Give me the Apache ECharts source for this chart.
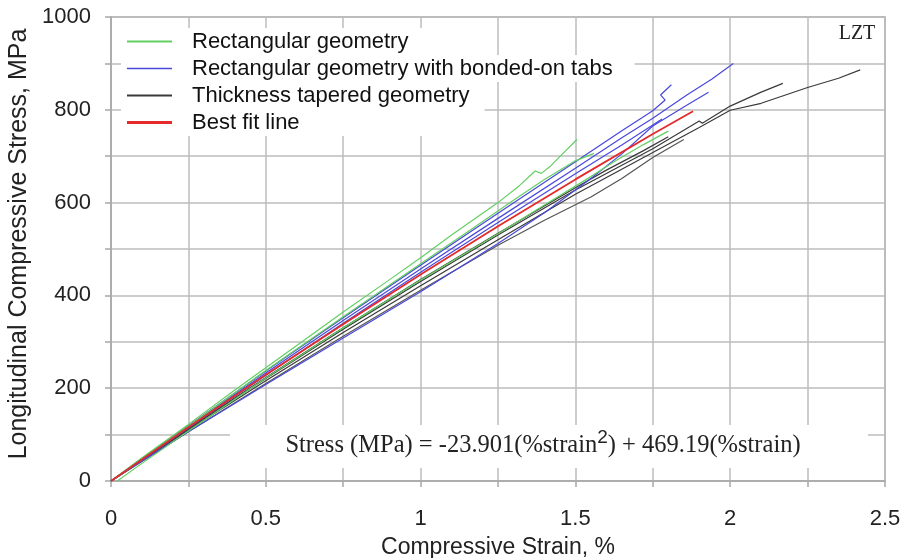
<!DOCTYPE html>
<html>
<head>
<meta charset="utf-8">
<script src="https://cdn.jsdelivr.net/npm/echarts@6/dist/echarts.min.js"></script>
<style>
html,body{margin:0;padding:0;background:#fff;}
#chart{width:902px;height:558px;}
</style>
</head>
<body>
<div id="chart"></div>
<script>
// ---- Data (strain %, stress MPa) ----
const seriesNames = ['Rectangular geometry', 'Rectangular geometry with bonded-on tabs', 'Thickness tapered geometry', 'Best fit line'];

const rect1 = [[0,0],[0.1,50],[0.25,122],[0.4,196],[0.5,244],[0.6,292],[0.75,364],[0.9,434],[1.0,481],[1.1,530],[1.25,600],[1.32,637],[1.37,668],[1.39,663],[1.42,679],[1.46,706],[1.505,736]];
const rect2 = [[0,0],[0.1,47],[0.25,118],[0.5,238],[0.75,354],[1.0,468],[1.15,536],[1.3,605],[1.4,650],[1.5,690],[1.56,706]];
const rect3 = [[0.02,0],[0.1,38],[0.25,108],[0.5,222],[0.75,330],[1.0,433],[1.25,533],[1.4,595],[1.55,656],[1.63,690],[1.72,725],[1.8,754]];

const tab1 = [[0,0],[0.1,47],[0.25,117],[0.5,233],[0.75,346],[1.0,457],[1.25,566],[1.5,674],[1.65,740],[1.75,782],[1.86,832],[1.94,866],[2.01,900]];
const tab2 = [[0,0],[0.1,48],[0.25,119],[0.5,237],[0.75,352],[1.0,465],[1.25,577],[1.5,688],[1.65,755],[1.75,798],[1.79,821],[1.775,832],[1.81,854]];
const tab3 = [[0,0],[0.1,46],[0.25,114],[0.5,228],[0.75,340],[1.0,450],[1.25,557],[1.5,662],[1.65,724],[1.78,780]];
const tab4 = [[0,0],[0.1,43],[0.25,106],[0.5,208],[0.75,308],[1.0,408],[1.25,512],[1.4,578],[1.55,652],[1.65,705],[1.75,765],[1.85,806],[1.93,838]];

const taper1 = [[0,0],[0.1,44],[0.25,110],[0.5,216],[0.75,320],[1.0,421],[1.25,520],[1.5,618],[1.75,708],[1.9,762],[2.0,799],[2.1,814],[2.25,848],[2.35,868],[2.42,886]];
const taper2 = [[0,0],[0.1,45],[0.25,112],[0.5,221],[0.75,327],[1.0,430],[1.25,530],[1.5,627],[1.75,716],[1.9,776],[1.91,771],[2.0,808],[2.1,838],[2.17,857]];
const taper3 = [[0,0],[0.1,45],[0.25,113],[0.5,223],[0.75,330],[1.0,434],[1.25,534],[1.5,632],[1.6,670],[1.72,712],[1.8,742]];
const taper4 = [[0,0],[0.1,42],[0.25,106],[0.5,210],[0.75,312],[1.0,411],[1.25,508],[1.4,562],[1.55,612],[1.65,652],[1.75,697],[1.85,736]];

const bestFit = [[0,0],[0.25,116],[0.5,229],[0.75,338],[1.0,445],[1.25,549],[1.5,650],[1.75,748],[1.88,797]];

const xTickLabels = ['0','0.5','1','1.5','2','2.5'];
const yTickLabels = ['0','200','400','600','800','1000'];

const colors = { green:'#62cf62', blue:'#4848dc', black:'#3a3a3a', red:'#e42a2a' };

// ---- Chart ----
const chart = echarts.init(document.getElementById('chart'));

function line(name, data, color, width, z) {
  return { name, type:'line', data, symbol:'none', smooth:false, z: z || 2,
           lineStyle:{ color, width }, itemStyle:{ color }, emphasis:{ disabled:true } };
}

const series = [
  line(seriesNames[2], taper1, colors.black, 1.2),
  line(seriesNames[2], taper2, colors.black, 1.2),
  line(seriesNames[2], taper3, colors.black, 1.2),
  line(seriesNames[2], taper4, '#555', 1.2),
  line(seriesNames[1], tab1, colors.blue, 1.2),
  line(seriesNames[1], tab2, colors.blue, 1.2),
  line(seriesNames[1], tab3, colors.blue, 1.2),
  line(seriesNames[1], tab4, colors.blue, 1.2),
  line(seriesNames[0], rect1, colors.green, 1.2),
  line(seriesNames[0], rect2, colors.green, 1.2),
  line(seriesNames[0], rect3, colors.green, 1.2),
  line(seriesNames[3], bestFit, colors.red, 1.8, 3)
];

const legendFont = { fontFamily:'Liberation Sans, Arial, sans-serif', fontSize:22, color:'#111', lineHeight:23, padding:[0,0,0,15] };
const rowTops = [28, 55, 82, 109];
const rowPadRight = [77, 22, 15, 185];
const rowIconH = [2, 1.5, 2, 3];
const legends = seriesNames.map((n, i) => ({
  data:[n], left:121, top:rowTops[i], orient:'horizontal',
  backgroundColor:'#fff', padding:[2, rowPadRight[i], 2, 6],
  icon:'rect', itemWidth:45, itemHeight:rowIconH[i], itemGap:0, selectedMode:false,
  textStyle: legendFont
}));

const axisGrey = '#a8a8a8';
const gridGrey = '#bdbdbd';
const labelFont = { fontFamily:'Liberation Sans, Arial, sans-serif', fontSize:22, color:'#222' };

chart.setOption({
  animation:false,
  backgroundColor:'#fff',
  grid:{ left:111, right:17, top:17, bottom:77, containLabel:false, outerBoundsMode:'none',
         show:true, borderColor:axisGrey, borderWidth:1.5, backgroundColor:'transparent' },
  legend: legends,
  xAxis:{
    type:'value', min:0, max:2.5, interval:0.25,
    axisLine:{ show:true, lineStyle:{ color:axisGrey, width:1.5 } },
    axisTick:{ show:true, length:6, lineStyle:{ color:axisGrey, width:1.5 } },
    splitLine:{ show:true, lineStyle:{ color:gridGrey, width:1.5 } },
    axisLabel:{ ...labelFont, margin:27, showMinLabel:true, showMaxLabel:true,
      formatter:(v)=>{ const k = Math.round(v*100); return k % 50 === 0 ? xTickLabels[k/50] : ''; } },
    name:'Compressive Strain, %', nameLocation:'middle', nameGap:55,
    nameTextStyle:{ fontFamily:'Liberation Sans, Arial, sans-serif', fontSize:23, color:'#222' }
  },
  yAxis:{
    type:'value', min:0, max:1000, interval:100,
    axisLine:{ show:true, lineStyle:{ color:axisGrey, width:1.5 } },
    axisTick:{ show:true, length:6, lineStyle:{ color:axisGrey, width:1.5 } },
    splitLine:{ show:true, lineStyle:{ color:gridGrey, width:1.5 } },
    axisLabel:{ ...labelFont, margin:20, showMinLabel:true, showMaxLabel:true,
      formatter:(v)=>{ const k = Math.round(v); return k % 200 === 0 ? yTickLabels[k/200] : ''; } },
    name:'Longitudinal Compressive Stress, MPa', nameLocation:'middle', nameGap:78, nameRotate:90,
    nameTextStyle:{ fontFamily:'Liberation Sans, Arial, sans-serif', fontSize:25, color:'#222', padding:[0,0,0,10] }
  },
  graphic:[
    { type:'rect', z:100, shape:{ x:230, y:425, width:638, height:43 }, style:{ fill:'#fff' } },
    { type:'text', z:101, x:543, y:443,
      style:{
        text:'{m|Stress (MPa) = -23.901(%strain}{s|2}{m|) + 469.19(%strain)}',
        align:'center', verticalAlign:'middle',
        rich:{
          m:{ fontFamily:'Liberation Serif, Times New Roman, serif', fontSize:24.5, fill:'#222', lineHeight:30, verticalAlign:'bottom' },
          s:{ fontFamily:'Liberation Sans, Arial, sans-serif', fontSize:19, fill:'#222', lineHeight:30, verticalAlign:'top' }
        }
      } },
    { type:'text', z:101, x:857, y:34,
      style:{ text:'LZT', align:'center', verticalAlign:'middle', fontFamily:'Liberation Serif, Times New Roman, serif', fontSize:20, fill:'#222' } }
  ],
  series
});
</script>
</body>
</html>
